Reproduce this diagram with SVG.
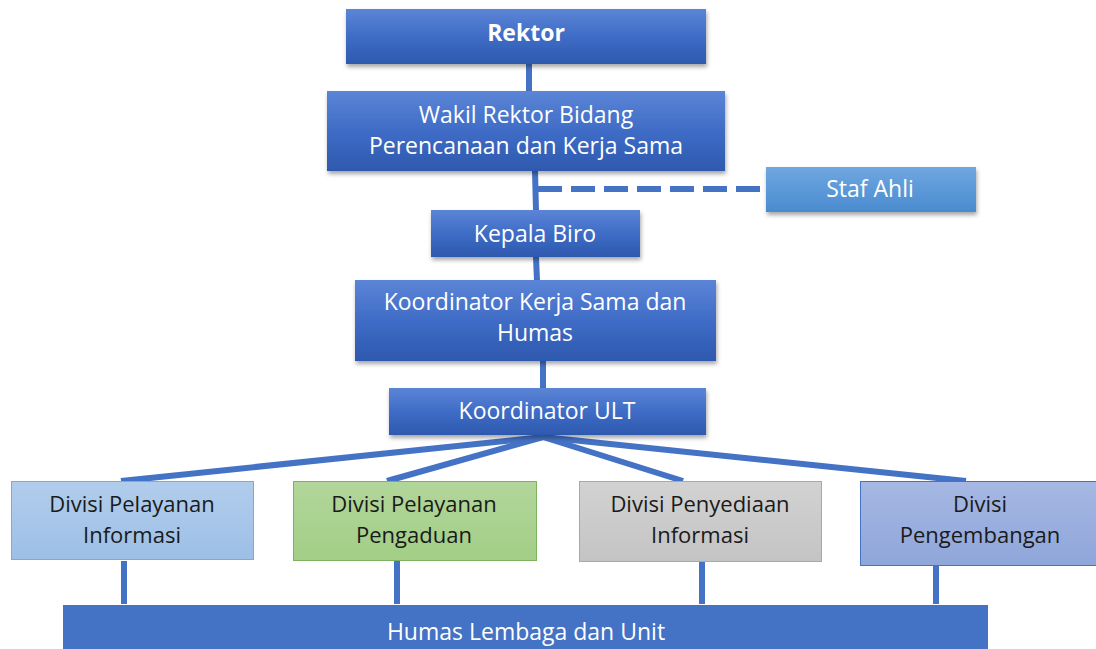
<svg xmlns="http://www.w3.org/2000/svg" width="1096" height="649" viewBox="0 0 1096 649">
<defs>
<linearGradient id="gBlue" x1="0" y1="0" x2="0" y2="1">
<stop offset="0" stop-color="#5B85D6"/><stop offset="0.5" stop-color="#3F6CC6"/><stop offset="1" stop-color="#2E59AE"/>
</linearGradient>
<linearGradient id="gStaf" x1="0" y1="0" x2="0" y2="1">
<stop offset="0" stop-color="#6FA7E0"/><stop offset="1" stop-color="#4A8BD0"/>
</linearGradient>
<linearGradient id="gDiv1" x1="0" y1="0" x2="0" y2="1">
<stop offset="0" stop-color="#B1CDEC"/><stop offset="1" stop-color="#9DBFE6"/>
</linearGradient>
<linearGradient id="gDiv2" x1="0" y1="0" x2="0" y2="1">
<stop offset="0" stop-color="#B2D69A"/><stop offset="1" stop-color="#A2CE86"/>
</linearGradient>
<linearGradient id="gDiv3" x1="0" y1="0" x2="0" y2="1">
<stop offset="0" stop-color="#D2D2D2"/><stop offset="1" stop-color="#C4C4C4"/>
</linearGradient>
<linearGradient id="gDiv4" x1="0" y1="0" x2="0" y2="1">
<stop offset="0" stop-color="#A6B8E3"/><stop offset="1" stop-color="#8FA6DA"/>
</linearGradient>
<filter id="sh" x="-10%" y="-20%" width="120%" height="150%">
<feDropShadow dx="1" dy="3" stdDeviation="2" flood-color="#000" flood-opacity="0.35"/>
</filter>
</defs>
<style>
.t{font-family:"Open Sans","Noto Sans",sans-serif;font-size:23px;text-anchor:middle}
.d{font-size:22px}
.w{fill:#FFFFFF}
.k{fill:#1A1A1A}
.c{stroke:#4472C4;stroke-width:6;fill:none}
.top{fill:url(#gBlue)}
</style>
<rect width="1096" height="649" fill="#FFFFFF"/>
<g id="connectors">
<line class="c" x1="529" y1="64" x2="529" y2="92"/>
<line class="c" x1="535" y1="171" x2="536" y2="211"/>
<line class="c" x1="538" y1="189" x2="766" y2="189" stroke-dasharray="24,9"/>
<line class="c" x1="536" y1="257" x2="537" y2="281"/>
<line class="c" x1="543" y1="361" x2="543" y2="389"/>
<line class="c" x1="543" y1="437" x2="121" y2="481"/>
<line class="c" x1="543" y1="437" x2="387" y2="481"/>
<line class="c" x1="543" y1="437" x2="683" y2="481"/>
<line class="c" x1="543" y1="437" x2="966" y2="481"/>
<line class="c" x1="124" y1="561" x2="124" y2="604"/>
<line class="c" x1="397" y1="561" x2="397" y2="604"/>
<line class="c" x1="702" y1="561" x2="702" y2="604"/>
<line class="c" x1="936" y1="565" x2="936" y2="604"/>
</g>
<g id="rektor">
<rect class="top" x="346" y="9" width="360" height="55" filter="url(#sh)"/>
<text class="t w" x="526" y="41" font-weight="bold">Rektor</text>
</g>
<g id="wakil">
<rect class="top" x="327" y="91" width="398" height="80" filter="url(#sh)"/>
<text class="t w" x="526" y="123">Wakil Rektor Bidang</text>
<text class="t w" x="526" y="154">Perencanaan dan Kerja Sama</text>
</g>
<g id="staf">
<rect x="766" y="167" width="210" height="45" fill="url(#gStaf)" filter="url(#sh)"/>
<text class="t w" x="870" y="197">Staf Ahli</text>
</g>
<g id="kepala">
<rect class="top" x="431" y="210" width="209" height="47" filter="url(#sh)"/>
<text class="t w" x="535" y="242">Kepala Biro</text>
</g>
<g id="koordinator-ks">
<rect class="top" x="355" y="280" width="361" height="81" filter="url(#sh)"/>
<text class="t w" x="535" y="310">Koordinator Kerja Sama dan</text>
<text class="t w" x="535" y="341">Humas</text>
</g>
<g id="koordinator-ult">
<rect class="top" x="389" y="388" width="317" height="47" filter="url(#sh)"/>
<text class="t w" x="547" y="419">Koordinator ULT</text>
</g>
<g id="div1">
<rect x="11.5" y="481.5" width="242" height="78" fill="url(#gDiv1)" stroke="#7FA9DA" stroke-width="1"/>
<text class="t d k" x="132" y="512">Divisi Pelayanan</text>
<text class="t d k" x="132" y="543">Informasi</text>
</g>
<g id="div2">
<rect x="293.5" y="481.5" width="243" height="79" fill="url(#gDiv2)" stroke="#7EB35E" stroke-width="1"/>
<text class="t d k" x="414" y="512">Divisi Pelayanan</text>
<text class="t d k" x="414" y="543">Pengaduan</text>
</g>
<g id="div3">
<rect x="579.5" y="481.5" width="242" height="80" fill="url(#gDiv3)" stroke="#A8A8A8" stroke-width="1"/>
<text class="t d k" x="700" y="512">Divisi Penyediaan</text>
<text class="t d k" x="700" y="543">Informasi</text>
</g>
<g id="div4">
<rect x="860.5" y="481.5" width="240" height="84" fill="url(#gDiv4)" stroke="#4472C4" stroke-width="1"/>
<text class="t d k" x="980" y="512">Divisi</text>
<text class="t d k" x="980" y="543">Pengembangan</text>
</g>
<g id="humas">
<rect x="63" y="605" width="925" height="50" fill="#4472C4"/>
<text class="t w" x="526" y="640">Humas Lembaga dan Unit</text>
</g>
</svg>
